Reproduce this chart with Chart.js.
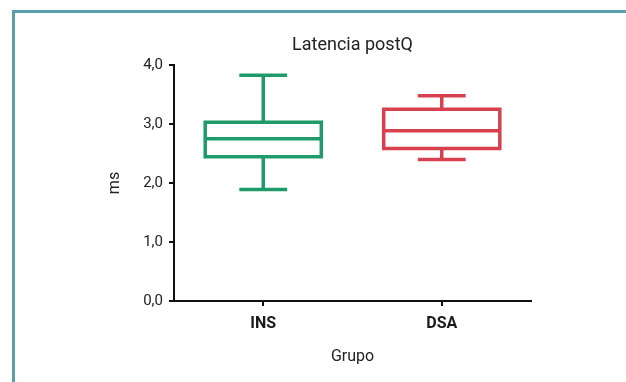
<!DOCTYPE html>
<html>
<head>
<meta charset="utf-8">
<script src="https://cdn.jsdelivr.net/npm/chart.js@4.4.1/dist/chart.umd.min.js"></script>
<style>
  html, body { margin: 0; padding: 0; background: #fff; overflow: hidden; }
  #frame { position: absolute; left: 12px; top: 10px; width: 700px; height: 500px;
           border-left: 3px solid #5b9fa8; border-top: 3px solid #5b9fa8; }
  #c { position: absolute; left: 0; top: 0; }
</style>
</head>
<body>
<div id="frame"></div>
<canvas id="c" width="626" height="382"></canvas>
<script>
const categories = ['INS', 'DSA'];
const minimums  = [1.89, 2.40];
const quartile1 = [2.445, 2.585];
const medians   = [2.75, 2.885];
const quartile3 = [3.03, 3.25];
const maximums  = [3.825, 3.48];
const boxColors = ['#1f9a6b', '#d7404f'];
const yTickValues = [0, 1, 2, 3, 4];

const boxPlotPlugin = {
  id: 'boxplot',
  afterDatasetsDraw(chart) {
    const ctx = chart.ctx;
    const xs = chart.scales.x, ys = chart.scales.y;
    const meta = chart.getDatasetMeta(0);
    ctx.save();
    ctx.lineWidth = 3.5;
    ctx.lineCap = 'butt';
    ctx.lineJoin = 'miter';
    categories.forEach((c, i) => {
      const x = xs.getPixelForValue(i);
      const bw = meta.data[i].width - 3.5;
      const cap = (bw + 3.5) * 0.4;
      const yQ1 = ys.getPixelForValue(quartile1[i]);
      const yQ3 = ys.getPixelForValue(quartile3[i]);
      const yMed = ys.getPixelForValue(medians[i]);
      const yMin = ys.getPixelForValue(minimums[i]);
      const yMax = ys.getPixelForValue(maximums[i]);
      ctx.strokeStyle = boxColors[i];
      ctx.strokeRect(x - bw / 2, yQ3, bw, yQ1 - yQ3);
      ctx.beginPath();
      ctx.moveTo(x, yQ3); ctx.lineTo(x, yMax);
      ctx.moveTo(x - cap / 2, yMax); ctx.lineTo(x + cap / 2, yMax);
      ctx.moveTo(x, yQ1); ctx.lineTo(x, yMin);
      ctx.moveTo(x - cap / 2, yMin); ctx.lineTo(x + cap / 2, yMin);
      ctx.moveTo(x - bw / 2, yMed); ctx.lineTo(x + bw / 2, yMed);
      ctx.stroke();
    });
    ctx.restore();
  }
};

new Chart(document.getElementById('c'), {
  type: 'bar',
  data: {
    labels: categories,
    datasets: [{
      data: categories.map((c, i) => [quartile1[i], quartile3[i]]),
      backgroundColor: 'rgba(0,0,0,0)',
      borderColor: boxColors,
      borderWidth: 0,
      barPercentage: 0.67,
      categoryPercentage: 1
    }]
  },
  options: {
    responsive: false,
    animation: false,
    devicePixelRatio: 1,
    layout: { padding: { left: 0, right: 95, top: 0, bottom: 0 } },
    plugins: {
      legend: { display: false },
      tooltip: { enabled: false },
      title: {
        display: true,
        text: 'Latencia postQ',
        fullSize: false,
        color: '#222',
        font: { family: 'Roboto', size: 18, weight: 'normal' },
        padding: { top: 35, bottom: 8.4 }
      }
    },
    scales: {
      x: {
        afterFit: s => { s.height = 81; },
        grid: { display: true, drawOnChartArea: false, drawTicks: true, tickLength: 5, offset: false, color: '#111', lineWidth: 2 },
        border: { display: true, color: '#111', width: 2 },
        ticks: { color: '#1a1a1a', padding: 8, font: { family: 'Roboto', size: 16, weight: 'bold' } },
        title: { display: true, text: 'Grupo', color: '#222', font: { family: 'Roboto', size: 16 }, padding: { top: 0, bottom: 15.4 } }
      },
      y: {
        min: 0, max: 4,
        afterFit: s => { s.width = 174; },
        afterBuildTicks: s => { s.ticks = yTickValues.map(v => ({ value: v })); },
        grid: { display: true, drawOnChartArea: false, drawTicks: true, tickLength: 5, color: '#111', lineWidth: 2 },
        border: { display: true, color: '#111', width: 2 },
        ticks: { color: '#222', padding: 6, font: { family: 'Roboto', size: 15 },
                 callback: v => v.toFixed(1).replace('.', ',') },
        title: { display: true, text: 'ms', color: '#222', font: { family: 'Roboto', size: 16 }, padding: { top: 105, bottom: 0 } }
      }
    }
  },
  plugins: [boxPlotPlugin]
});
</script>
</body>
</html>
